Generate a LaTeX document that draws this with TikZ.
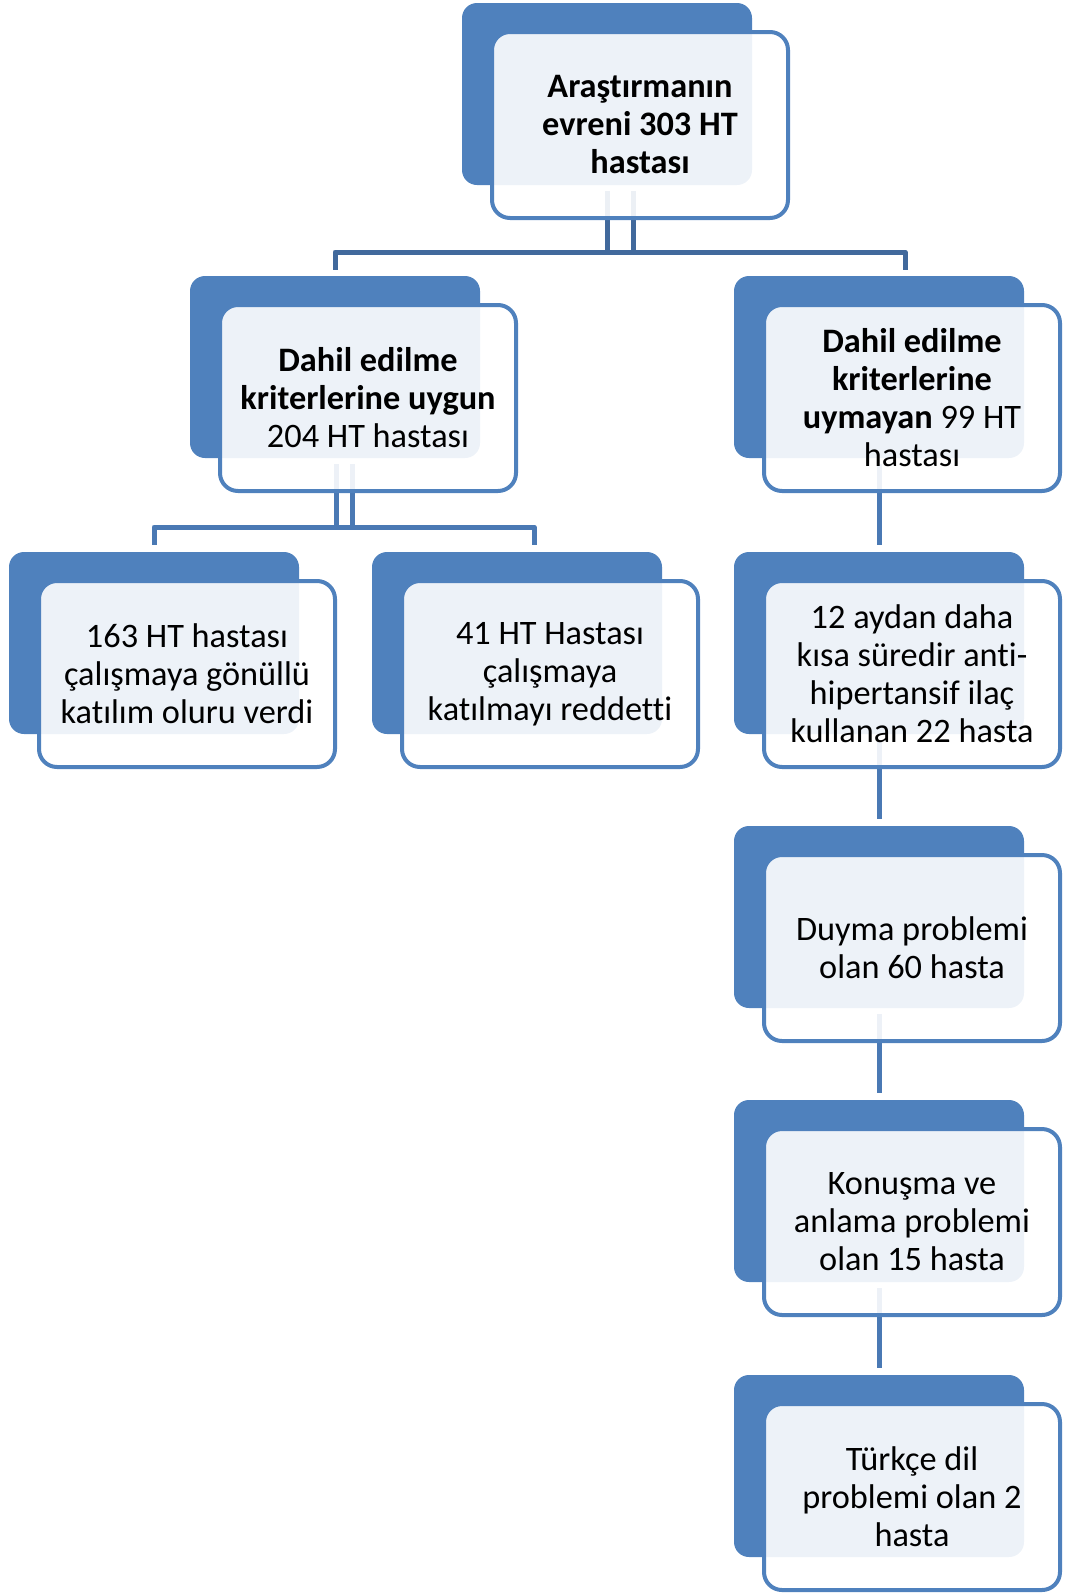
\documentclass[tikz,border=0pt]{standalone}
\usepackage{fontspec}
\setmainfont[Ligatures={NoCommon}]{Carlito}
\usetikzlibrary{calc}
\definecolor{accent}{HTML}{4F81BD}
\definecolor{connA}{HTML}{41699C}
\definecolor{connB}{HTML}{4A79B4}
\tikzset{
  backbox/.style={fill=accent, draw=none, rounded corners=15pt, minimum width=290pt, minimum height=182pt, anchor=north west, inner sep=0pt, outer sep=0pt},
  frontbox/.style={fill=white, fill opacity=0.9, text opacity=1, draw=accent, draw opacity=1, line width=4pt, rounded corners=18pt, minimum width=296pt, minimum height=186pt, anchor=north west, align=center, inner sep=0pt, font=\fontsize{34.3}{38}\selectfont},
  conn/.style={draw=connB, line width=5pt, line join=round},
  conntop/.style={draw=connA, line width=5pt, line join=round},
}
\begin{document}
\begin{tikzpicture}[x=1pt, y=-1pt]
\useasboundingbox (0,0) rectangle (1066,1593);
% back boxes
\node[backbox] (bA) at (462,3) {};
\node[backbox] (bL) at (190,276) {};
\node[backbox] (bR) at (734,276) {};
\node[backbox] (b3a) at (9,552) {};
\node[backbox] (b3b) at (372,552) {};
\node[backbox] (b3c) at (734,552) {};
\node[backbox] (b4) at (734,826) {};
\node[backbox] (b5) at (734,1100) {};
\node[backbox] (b6) at (734,1375) {};
% connectors
\draw[conntop] ($(bA.south)+(26,6)$) |- ($(bL.north)+(0,-24)$) -- ($(bL.north)+(0,-6)$);
\draw[conntop] ($(bA.south)+(0,6)$) |- ($(bR.north)+(26,-24)$) -- ($(bR.north)+(26,-6)$);
\draw[conn] ($(bL.south)+(17,6)$) |- ($(b3a.north)+(0,-25)$) -- ($(b3a.north)+(0,-7)$);
\draw[conn] ($(bL.south)+(1,6)$) |- ($(b3b.north)+(17,-25)$) -- ($(b3b.north)+(17,-7)$);
\draw[conn] ($(bR.south)+(0,6)$) -- ($(b3c.north)+(0,-7)$);
\draw[conn] ($(b3c.south)+(0,6)$) -- ($(b4.north)+(0,-7)$);
\draw[conn] ($(b4.south)+(0,6)$) -- ($(b5.north)+(0,-7)$);
\draw[conn] ($(b5.south)+(0,6)$) -- ($(b6.north)+(0,-7)$);
% front boxes
\node[frontbox] (fA) at ($(bA.north west)+(28,27)$) {\textbf{Araştırmanın}\\\textbf{evreni 303 HT}\\\textbf{hastası}};
\node[frontbox] (fL) at ($(bL.north west)+(28,27)$) {\textbf{Dahil edilme}\\\textbf{kriterlerine uygun}\\204 HT hastası};
\node[frontbox] (fR) at ($(bR.north west)+(28,27)$) {\textbf{Dahil edilme}\\\textbf{kriterlerine}\\\textbf{uymayan} 99 HT\\hastası};
\node[frontbox] (f3a) at ($(b3a.north west)+(28,27)$) {163 HT hastası\\çalışmaya gönüllü\\katılım oluru verdi};
\node[frontbox] (f3b) at ($(b3b.north west)+(28,27)$) {41 HT Hastası\\çalışmaya\\katılmayı reddetti};
\node[frontbox] (f3c) at ($(b3c.north west)+(28,27)$) {12 aydan daha\\kısa süredir anti-\\hipertansif ilaç\\kullanan 22 hasta};
\node[frontbox] (f4) at ($(b4.north west)+(28,27)$) {Duyma problemi\\olan 60 hasta};
\node[frontbox] (f5) at ($(b5.north west)+(28,27)$) {Konuşma ve\\anlama problemi\\olan 15 hasta};
\node[frontbox] (f6) at ($(b6.north west)+(28,27)$) {Türkçe dil\\problemi olan 2\\hasta};
\end{tikzpicture}
\end{document}
